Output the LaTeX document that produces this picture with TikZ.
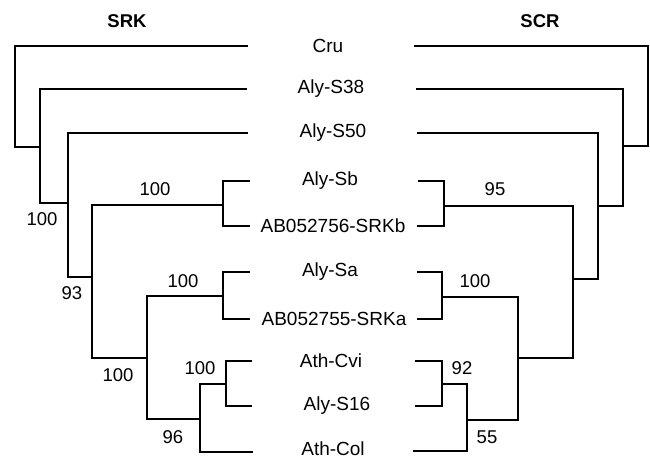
\documentclass[tikz,border=0pt]{standalone}
\usepackage{fontspec}
\setmainfont{Liberation Sans}
\begin{document}
\begin{tikzpicture}[x=1pt,y=-1pt,
  br/.style={line width=2.9pt,line join=miter,line cap=butt},
  leaf/.style={inner sep=0pt,font=\fontsize{19}{22}\selectfont},
  boot/.style={inner sep=0pt,font=\fontsize{18.5}{22}\selectfont},
  ttl/.style={inner sep=0pt,font=\fontsize{18.5}{22}\selectfont\bfseries}]
\useasboundingbox (0,0) rectangle (650,461);
% titles
\node[ttl] (tSRK) at (127,21) {SRK};
\node[ttl] (tSCR) at (540,21) {SCR};
% leaf labels
\node[leaf] (nCru)  at (328,46)  {Cru};
\node[leaf] (nS38)  at (331,89)  {Aly-S38};
\node[leaf] (nS50)  at (333,133) {Aly-S50};
\node[leaf] (nSb)   at (330,181) {Aly-Sb};
\node[leaf] (nSRKb) at (333,226) {AB052756-SRKb};
\node[leaf] (nSa)   at (330,272) {Aly-Sa};
\node[leaf] (nSRKa) at (334,319) {AB052755-SRKa};
\node[leaf] (nCvi)  at (331,361) {Ath-Cvi};
\node[leaf] (nS16)  at (337,406) {Aly-S16};
\node[leaf] (nCol)  at (333,449) {Ath-Col};
% left tips
\coordinate (lCru)  at (248,46);
\coordinate (lS38)  at (247,89);
\coordinate (lS50)  at (248,133);
\coordinate (lSb)   at (250,181);
\coordinate (lSRKb) at (250,226);
\coordinate (lSa)   at (250,272);
\coordinate (lSRKa) at (250,319);
\coordinate (lCvi)  at (252,361);
\coordinate (lS16)  at (252,406);
\coordinate (lCol)  at (253,452);
% left internal nodes
\coordinate (Lb) at (223,205);
\coordinate (La) at (223,296);
\coordinate (L6) at (226,384);
\coordinate (L5) at (200,419);
\coordinate (L4) at (147,358);
\coordinate (L3) at (92,277);
\coordinate (L2) at (68,203);
\coordinate (L1) at (40,147);
\coordinate (L0) at (15,147);
% right tips
\coordinate (rCru)  at (414,46);
\coordinate (rS38)  at (416,89);
\coordinate (rS50)  at (417,133);
\coordinate (rSb)   at (418,181);
\coordinate (rSRKb) at (417,226);
\coordinate (rSa)   at (417,272);
\coordinate (rSRKa) at (417,319);
\coordinate (rCvi)  at (415,361);
\coordinate (rS16)  at (415,406);
\coordinate (rCol)  at (413,451);
% right internal nodes
\coordinate (Rb) at (444,206);
\coordinate (Ra) at (442,297);
\coordinate (R6) at (442,384);
\coordinate (R5) at (467,420);
\coordinate (R4) at (518,358);
\coordinate (R3) at (573,279);
\coordinate (R2) at (598,206);
\coordinate (R1) at (623,146);
\coordinate (R0) at (648,146);
% left tree
\draw[br] (lSb) -| (Lb) |- (lSRKb);
\draw[br] (lSa) -| (La) |- (lSRKa);
\draw[br] (lCvi) -| (L6) |- (lS16);
\draw[br] (L6) -| (L5) |- (lCol);
\draw[br] (La) -| (L4) |- (L5);
\draw[br] (Lb) -| (L3) |- (L4);
\draw[br] (lS50) -| (L2) |- (L3);
\draw[br] (lS38) -| (L1) |- (L2);
\draw[br] (lCru) -| (L0) -- (L1);
% right tree
\draw[br] (rSb) -| (Rb) |- (rSRKb);
\draw[br] (rSa) -| (Ra) |- (rSRKa);
\draw[br] (rCvi) -| (R6) |- (rS16);
\draw[br] (R6) -| (R5) |- (rCol);
\draw[br] (Ra) -| (R4) |- (R5);
\draw[br] (Rb) -| (R3) |- (R4);
\draw[br] (rS50) -| (R2) |- (R3);
\draw[br] (rS38) -| (R1) |- (R2);
\draw[br] (rCru) -| (R0) -- (R1);
% bootstrap values
\node[boot] (bL1) at (42,219) {100};
\node[boot] (bL3) at (72,293) {93};
\node[boot] (bLb) at (155,189) {100};
\node[boot] (bLa) at (183,281) {100};
\node[boot] (bL4) at (118,375) {100};
\node[boot] (bL6) at (200,368) {100};
\node[boot] (bL5) at (173,437) {96};
\node[boot] (bRb) at (495,189) {95};
\node[boot] (bRa) at (475,281) {100};
\node[boot] (bR6) at (462,368) {92};
\node[boot] (bR5) at (487,437) {55};
\end{tikzpicture}
\end{document}
